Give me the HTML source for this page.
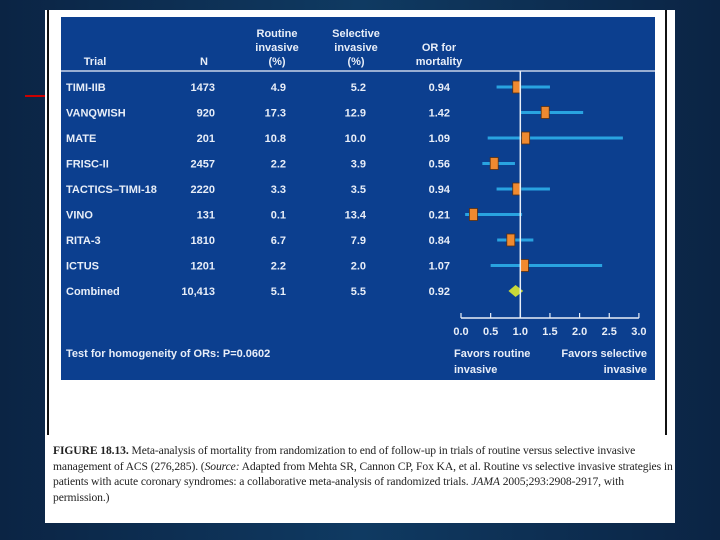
<!DOCTYPE html>
<html><head><meta charset="utf-8">
<style>
body{margin:0;width:720px;height:540px;overflow:hidden;background:linear-gradient(90deg,#0b2444,#0f3a62 50%,#0b2444);font-family:"Liberation Sans",sans-serif;}
#paper{position:absolute;left:45px;top:10px;width:630px;height:513px;background:#fff;}
#cap{position:absolute;left:53px;top:443px;width:625px;font-family:"Liberation Serif",serif;font-size:11.6px;line-height:15.5px;color:#222;letter-spacing:-0.1px;}
</style></head><body>
<div id="paper"></div>
<div style="position:absolute;left:47px;top:10px;width:2px;height:425px;background:#111"></div>
<div style="position:absolute;left:665px;top:10px;width:2px;height:425px;background:#111"></div>
<div style="position:absolute;left:25px;top:95px;width:20px;height:2px;background:#c00"></div>
<svg style="position:absolute;left:0;top:0" width="720" height="540" id="chart">
<rect x="61" y="17" width="594" height="363" fill="#0c3f8f"/>
<g id="hdr" font-size="11" font-weight="bold" fill="#e8eef8" text-anchor="middle">
<text x="95" y="65">Trial</text>
<text x="204" y="65">N</text>
<text x="277" y="37"><tspan x="277">Routine</tspan><tspan x="277" dy="14">invasive</tspan><tspan x="277" dy="14">(%)</tspan></text>
<text x="356" y="37"><tspan x="356">Selective</tspan><tspan x="356" dy="14">invasive</tspan><tspan x="356" dy="14">(%)</tspan></text>
<text x="439" y="51"><tspan x="439">OR for</tspan><tspan x="439" dy="14">mortality</tspan></text>
</g>
<line x1="61" y1="71" x2="655" y2="71" stroke="#c8d4e8" stroke-width="1.5"/>
<g id="rows"></g>
<g id="axis"></g>
<text x="66" y="357" font-size="11" font-weight="bold" fill="#e8eef8">Test for homogeneity of ORs: P=0.0602</text>
<text x="454" y="357" font-size="11" font-weight="bold" fill="#e8eef8"><tspan x="454">Favors routine</tspan><tspan x="454" dy="16">invasive</tspan></text>
<text x="647" y="357" font-size="11" font-weight="bold" fill="#e8eef8" text-anchor="end"><tspan x="647">Favors selective</tspan><tspan x="647" dy="16">invasive</tspan></text>
</svg>
<div id="cap"><b>FIGURE 18.13.</b> Meta-analysis of mortality from randomization to end of follow-up in trials of routine versus selective invasive management of ACS (276,285). (<i>Source:</i> Adapted from Mehta SR, Cannon CP, Fox KA, et al. Routine vs selective invasive strategies in patients with acute coronary syndromes: a collaborative meta-analysis of randomized trials. <i>JAMA</i> 2005;293:2908-2917, with permission.)</div>
<script>
const trials=["TIMI-IIB","VANQWISH","MATE","FRISC-II","TACTICS–TIMI-18","VINO","RITA-3","ICTUS","Combined"];
const nVals=["1473","920","201","2457","2220","131","1810","1201","10,413"];
const routine=["4.9","17.3","10.8","2.2","3.3","0.1","6.7","2.2","5.1"];
const selective=["5.2","12.9","10.0","3.9","3.5","13.4","7.9","2.0","5.5"];
const orVals=[0.94,1.42,1.09,0.56,0.94,0.21,0.84,1.07,0.92];
const ciLow=[0.6,1.01,0.45,0.36,0.6,0.07,0.61,0.5,0.8];
const ciHigh=[1.5,2.06,2.73,0.91,1.5,1.03,1.22,2.38,1.05];
const ticks=[0,0.5,1,1.5,2,2.5,3];
const NS="http://www.w3.org/2000/svg";
const xS=v=>461+v*59.3;
const yS=i=>87+i*25.5;
function mk(tag,attrs,parent,txt){const e=document.createElementNS(NS,tag);for(const k in attrs)e.setAttribute(k,attrs[k]);if(txt!==undefined)e.textContent=txt;parent.appendChild(e);return e;}
const rows=document.getElementById('rows'),axis=document.getElementById('axis');
const ax0=318;
let e=mk('line',{x1:xS(1),y1:71,x2:xS(1),y2:ax0,stroke:'#e8eef8','stroke-width':1.5},axis);


e=mk('line',{x1:xS(0),y1:ax0,x2:xS(3),y2:ax0,stroke:'#e8eef8','stroke-width':1.5},axis);


ticks.forEach(t=>{
 let l=mk('line',{x1:xS(t),y1:ax0-5,x2:xS(t),y2:ax0,stroke:'#e8eef8','stroke-width':1.2},axis);
 
 
 let tx=mk('text',{x:xS(t),y:ax0+17,'font-size':11,'font-weight':'bold',fill:'#e8eef8','text-anchor':'middle'},axis,t.toFixed(1));
 
 
});
trials.forEach((name,i)=>{
 const y=yS(i);
 const cols=[[name,66,'start'],[nVals[i],215,'end'],[routine[i],286,'end'],[selective[i],366,'end'],[orVals[i].toFixed(2),450,'end']];
 cols.forEach((c,j)=>{
  let t=mk('text',{x:c[1],y:y+4,'font-size':11,'font-weight':'bold',fill:'#e8eef8','text-anchor':c[2]},rows,c[0]);
  
  
 });
 if(name==="Combined"){
  let d=mk('polygon',{points:`${xS(ciLow[i])},${y} ${xS(orVals[i])},${y-6} ${xS(ciHigh[i])},${y} ${xS(orVals[i])},${y+6}`,fill:'#c8d838'},rows);
  
  
 } else {
  let l=mk('line',{x1:xS(ciLow[i]),y1:y,x2:xS(ciHigh[i]),y2:y,stroke:'#29a3e0','stroke-width':3},rows);
  
  
  let r=mk('rect',{x:xS(orVals[i])-4,y:y-6,width:8,height:12,fill:'#f08a30',stroke:'#5a3010','stroke-width':0.8},rows);
  
  
 }
});
</script>
</body></html>
